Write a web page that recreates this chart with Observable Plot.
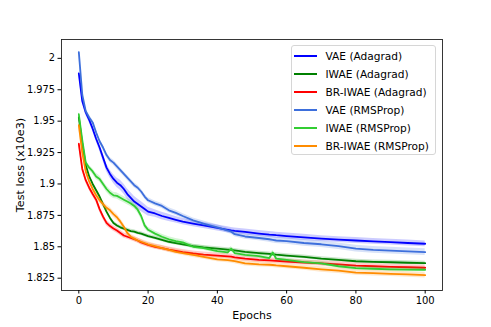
<!DOCTYPE html>
<html><head><meta charset="utf-8">
<script src="https://cdn.jsdelivr.net/npm/d3@7"></script>
<script src="https://cdn.jsdelivr.net/npm/@observablehq/plot@0.6"></script>
<style>
body{margin:0;background:#fff;}
#wrap{position:relative;width:491px;height:327px;font-family:"DejaVu Sans",sans-serif;}
#legend{position:absolute;left:291px;top:45px;width:145px;height:110px;border:1px solid #d6d6d6;border-radius:3px;background:rgba(255,255,255,0.8);box-sizing:border-box;}
.row{position:absolute;left:0;height:18px;display:flex;align-items:center;font-size:10.6px;color:#000;white-space:nowrap;}
.sw{width:23px;height:0;border-top:2px solid;margin-left:1.5px;margin-right:9px;}
</style></head><body><div id="wrap"></div>
<script>
const epochs = [0,1,2,3,4,5,6,7,8,9,10,11,12,13,14,15,16,17,18,19,20,22,24,26,28,30,33,36,40,43,44,45,48,52,55,56,57,60,65,70,75,80,85,90,95,100];

const vaeAdagrad = [1.988,1.966,1.957,1.951,1.944,1.936,1.929,1.921,1.913,1.908,1.904,1.901,1.899,1.896,1.892,1.889,1.886,1.884,1.882,1.880,1.878,1.8765,1.8745,1.873,1.8715,1.870,1.8685,1.867,1.865,1.8635,1.863,1.8626,1.8618,1.8605,1.8597,1.8595,1.8592,1.8585,1.8575,1.8565,1.8557,1.855,1.8543,1.8537,1.853,1.8524];
const iwaeAdagrad = [1.953,1.932,1.915,1.906,1.900,1.895,1.890,1.884,1.878,1.873,1.869,1.867,1.8655,1.8645,1.8635,1.8625,1.862,1.861,1.8605,1.8595,1.8585,1.857,1.8555,1.854,1.853,1.852,1.8505,1.8495,1.8485,1.8478,1.8475,1.8472,1.846,1.845,1.8443,1.844,1.8437,1.843,1.842,1.8405,1.8395,1.8385,1.838,1.8377,1.8373,1.837];
const brAdagrad = [1.932,1.912,1.903,1.897,1.892,1.8875,1.880,1.874,1.869,1.8665,1.8645,1.863,1.861,1.859,1.858,1.857,1.856,1.855,1.8535,1.8525,1.8515,1.850,1.849,1.8478,1.8468,1.8458,1.8447,1.8438,1.843,1.8424,1.8422,1.8415,1.8405,1.8395,1.8391,1.839,1.8388,1.8383,1.8375,1.8368,1.836,1.835,1.8345,1.834,1.8337,1.8333];
const vaeRms = [2.005,1.971,1.958,1.953,1.949,1.941,1.934,1.929,1.923,1.919,1.917,1.914,1.911,1.908,1.905,1.902,1.899,1.897,1.894,1.890,1.887,1.8845,1.8825,1.879,1.877,1.8745,1.871,1.8685,1.8655,1.8628,1.862,1.860,1.8582,1.857,1.856,1.8555,1.855,1.8545,1.853,1.852,1.8505,1.8485,1.8475,1.847,1.8463,1.8457];
const iwaeRms = [1.9555,1.935,1.917,1.913,1.910,1.906,1.904,1.900,1.896,1.893,1.891,1.8905,1.889,1.8875,1.886,1.8845,1.8825,1.8795,1.8745,1.867,1.8635,1.8605,1.858,1.856,1.8545,1.8535,1.850,1.849,1.8465,1.8455,1.8485,1.845,1.8435,1.8425,1.841,1.8455,1.8405,1.8395,1.8378,1.8368,1.8345,1.833,1.8325,1.832,1.8318,1.8317];
const brRms = [1.9468,1.925,1.910,1.902,1.896,1.891,1.887,1.884,1.881,1.879,1.876,1.8735,1.870,1.866,1.861,1.858,1.8565,1.855,1.854,1.853,1.852,1.8505,1.849,1.8475,1.846,1.845,1.8435,1.842,1.840,1.8393,1.839,1.8385,1.8368,1.836,1.8357,1.8355,1.8352,1.8345,1.8333,1.832,1.831,1.8295,1.829,1.8285,1.828,1.8274];

const vaeAdagradSd = [0.002,0.002,0.002,0.002,0.002,0.0022,0.0025,0.003,0.003,0.0032,0.0035,0.0038,0.004,0.004,0.0042,0.0042,0.0042,0.004,0.004,0.0038,0.0035,0.003,0.003,0.0028,0.0026,0.0025,0.0025,0.0024,0.0024,0.0024,0.0024,0.0024,0.0024,0.0024,0.0024,0.0024,0.0024,0.0024,0.0024,0.0023,0.0023,0.0023,0.0023,0.0023,0.0023,0.0023];
const iwaeAdagradSd = [0.0015,0.0015,0.0015,0.0015,0.0015,0.0015,0.0015,0.0015,0.0015,0.0015,0.0015,0.0015,0.0015,0.0015,0.0015,0.0015,0.0015,0.0015,0.0015,0.0015,0.0015,0.0015,0.0015,0.0015,0.0015,0.0015,0.0015,0.0015,0.0015,0.0015,0.0015,0.0015,0.0015,0.0015,0.0015,0.0015,0.0015,0.0015,0.0015,0.0015,0.0015,0.0015,0.0015,0.0015,0.0015,0.0015];
const brAdagradSd = [0.002,0.002,0.002,0.002,0.002,0.002,0.0022,0.0022,0.0022,0.0022,0.0022,0.0022,0.0022,0.0022,0.002,0.002,0.002,0.002,0.002,0.002,0.002,0.002,0.002,0.002,0.002,0.002,0.002,0.002,0.002,0.002,0.002,0.002,0.002,0.002,0.002,0.002,0.002,0.002,0.002,0.002,0.002,0.002,0.002,0.002,0.002,0.002];
const vaeRmsSd = [0.0015,0.002,0.002,0.002,0.002,0.002,0.002,0.002,0.002,0.002,0.002,0.002,0.002,0.002,0.002,0.002,0.002,0.002,0.002,0.002,0.002,0.002,0.002,0.002,0.002,0.002,0.002,0.002,0.002,0.002,0.002,0.002,0.0022,0.0022,0.0024,0.0024,0.0024,0.0025,0.0025,0.0026,0.0026,0.0027,0.0027,0.0027,0.0027,0.0027];
const iwaeRmsSd = [0.002,0.002,0.002,0.002,0.0022,0.0025,0.0025,0.0025,0.0025,0.0025,0.0025,0.0025,0.0025,0.0025,0.0025,0.0025,0.0025,0.0025,0.0025,0.0025,0.002,0.002,0.002,0.002,0.002,0.002,0.0018,0.0018,0.0018,0.0018,0.0018,0.0018,0.0017,0.0017,0.0017,0.0017,0.0017,0.0016,0.0016,0.0016,0.0016,0.0016,0.0016,0.0016,0.0016,0.0016];
const brRmsSd = [0.002,0.002,0.002,0.002,0.002,0.0022,0.0025,0.0025,0.0025,0.0025,0.0025,0.0025,0.0025,0.0025,0.0022,0.002,0.002,0.002,0.002,0.002,0.002,0.002,0.002,0.002,0.002,0.002,0.002,0.002,0.002,0.002,0.002,0.002,0.002,0.002,0.002,0.002,0.002,0.002,0.002,0.0022,0.0022,0.0022,0.0022,0.0022,0.0022,0.0022];

const seriesNames = ["VAE (Adagrad)","IWAE (Adagrad)","BR-IWAE (Adagrad)","VAE (RMSProp)","IWAE (RMSProp)","BR-IWAE (RMSProp)"];
const seriesColors = ["#0000ff","#008000","#ff0000","#3d6fdc","#32cd32","#ff8c00"];
const seriesValues = [vaeAdagrad,iwaeAdagrad,brAdagrad,vaeRms,iwaeRms,brRms];
const seriesSd = [vaeAdagradSd,iwaeAdagradSd,brAdagradSd,vaeRmsSd,iwaeRmsSd,brRmsSd];

const xTicks = [0,20,40,60,80,100];
const yTicks = [1.825,1.85,1.875,1.9,1.925,1.95,1.975,2];

const marks = [];
seriesNames.forEach((name, k) => {
  const rows = epochs.map((e, i) => ({epoch: e, loss: seriesValues[k][i], lo: seriesValues[k][i] - seriesSd[k][i], hi: seriesValues[k][i] + seriesSd[k][i]}));
  marks.push(Plot.areaY(rows, {x: "epoch", y1: "lo", y2: "hi", fill: seriesColors[k], fillOpacity: 0.2, curve: "linear"}));
  marks.push(Plot.lineY(rows, {x: "epoch", y: "loss", stroke: seriesColors[k], strokeWidth: 1.8, curve: "linear"}));
});

const chart = Plot.plot({
  width: 491, height: 327,
  marginLeft: 61, marginRight: 49, marginTop: 39, marginBottom: 37,
  style: {fontFamily: "DejaVu Sans", fontSize: "10px", color: "#000", background: "#fff"},
  x: {domain: [-5, 105]},
  y: {domain: [1.8152, 2.015]},
  marks: [
    ...marks,
    Plot.frame({stroke: "#222", strokeWidth: 0.9}),
    Plot.axisX({ticks: xTicks, tickSize: 3.5, tickPadding: 3, tickFormat: d3.format("d"), label: null, fontSize: 10}),
    Plot.axisX({ticks: [], label: "Epochs", labelAnchor: "center", labelArrow: "none", labelOffset: 28, fontSize: 11}),
    Plot.axisY({ticks: yTicks, tickSize: 3.5, tickPadding: 3, tickFormat: d3.format("~g"), label: null, fontSize: 9.8}),
    Plot.axisY({ticks: [], label: "Test loss (x10e3)", labelAnchor: "center", labelArrow: "none", labelOffset: 45, fontSize: 11.2})
  ]
});
const wrap = document.getElementById("wrap");
wrap.appendChild(chart);

const legend = document.createElement("div");
legend.id = "legend";
seriesNames.forEach((name, k) => {
  const row = document.createElement("div");
  row.className = "row";
  row.style.top = (1 + k * 17.95) + "px";
  const sw = document.createElement("span");
  sw.className = "sw";
  sw.style.borderTopColor = seriesColors[k];
  const t = document.createElement("span");
  t.textContent = name;
  row.appendChild(sw); row.appendChild(t);
  legend.appendChild(row);
});
wrap.appendChild(legend);
</script></body></html>
